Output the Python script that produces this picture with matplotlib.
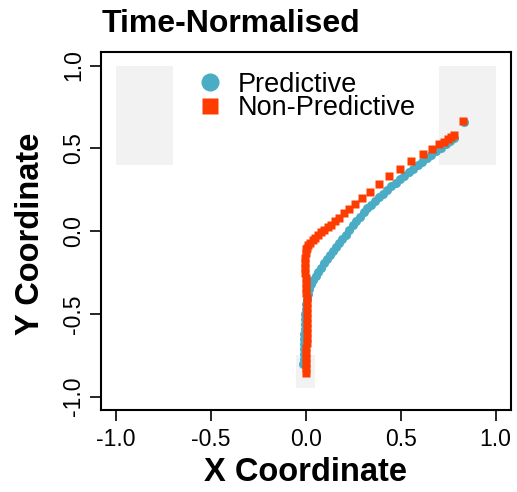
import matplotlib
matplotlib.use("Agg")
import matplotlib.pyplot as plt
from matplotlib.patches import Rectangle

plt.rcParams['font.family'] = ['Liberation Sans', 'DejaVu Sans']
plt.rcParams['axes.unicode_minus'] = False

# Predictive trajectory (blue circles)
pred_x = [-0.012, -0.011, -0.010, -0.010, -0.009, -0.008, -0.007, -0.006, -0.005, -0.003,
          -0.002, 0.000, 0.003, 0.007, 0.012, 0.020, 0.030, 0.041, 0.053, 0.066,
          0.080, 0.095, 0.110, 0.126, 0.142, 0.158, 0.175, 0.192, 0.210, 0.228,
          0.247, 0.266, 0.285, 0.305, 0.325, 0.345, 0.366, 0.387, 0.408, 0.430,
          0.452, 0.474, 0.497, 0.520, 0.543, 0.566, 0.590, 0.614, 0.638, 0.662,
          0.687, 0.712, 0.737, 0.762, 0.780, 0.836]
pred_y = [-0.80, -0.77, -0.74, -0.71, -0.68, -0.65, -0.62, -0.59, -0.56, -0.53,
          -0.50, -0.47, -0.44, -0.41, -0.38, -0.35, -0.32, -0.295, -0.27, -0.245,
          -0.22, -0.195, -0.17, -0.145, -0.12, -0.097, -0.073, -0.05, -0.025, 0.005,
          0.035, 0.062, 0.088, 0.113, 0.137, 0.160, 0.183, 0.205, 0.226, 0.250,
          0.271, 0.292, 0.313, 0.334, 0.355, 0.377, 0.398, 0.419, 0.440, 0.461,
          0.483, 0.504, 0.525, 0.546, 0.562, 0.662]

# Non-predictive trajectory (red squares)
nonpred_x = [0.002, 0.002, 0.003, 0.003, 0.004, 0.004, 0.005, 0.005, 0.005, 0.005,
             0.005, 0.005, 0.005, 0.005, 0.005, 0.005, 0.004, 0.003, 0.002, 0.000,
             -0.002, -0.003, -0.003, -0.002, 0.000, 0.003,
             0.006, 0.014, 0.024, 0.036, 0.051, 0.066, 0.082, 0.098, 0.116, 0.134,
             0.153, 0.175, 0.200, 0.228, 0.260, 0.296, 0.337, 0.386, 0.440, 0.497,
             0.555, 0.616, 0.663, 0.704, 0.730, 0.751, 0.768, 0.783, 0.830]
nonpred_y = [-0.855, -0.825, -0.795, -0.765, -0.735, -0.705, -0.675, -0.645, -0.615, -0.585,
             -0.555, -0.525, -0.495, -0.465, -0.435, -0.405, -0.375, -0.345, -0.315, -0.285,
             -0.255, -0.225, -0.195, -0.165, -0.135, -0.110,
             -0.100, -0.085, -0.070, -0.055, -0.040, -0.024, -0.008, 0.008, 0.024, 0.040,
             0.060, 0.082, 0.108, 0.136, 0.166, 0.200, 0.238, 0.284, 0.330, 0.376,
             0.424, 0.464, 0.496, 0.524, 0.540, 0.554, 0.566, 0.578, 0.664]

# grey target zones: (x0, y0, width, height)
zones = [(-1.0, 0.4, 0.3, 0.6), (0.7, 0.4, 0.3, 0.6), (-0.05, -0.95, 0.1, 0.2)]

blue = '#4BACC6'
red = '#FF3C00'

fig = plt.figure(figsize=(5.17, 4.92), dpi=100)
ax = fig.add_axes([0.1948, 0.1667, 0.7930, 0.7270])

for x0, y0, w, h in zones:
    ax.add_patch(Rectangle((x0, y0), w, h, facecolor='#F2F2F2', edgecolor='none', zorder=0))

ax.plot(pred_x, pred_y, linestyle='none', marker='o', ms=6.5, color=blue,
        mec='none', label='Predictive', zorder=2)
ax.plot(nonpred_x, nonpred_y, linestyle='none', marker='s', ms=5.8, color=red,
        mec='none', label='Non-Predictive', zorder=3)

ax.set_xlim(-1.08, 1.08)
ax.set_ylim(-1.08, 1.08)
ax.set_xticks([-1.0, -0.5, 0.0, 0.5, 1.0])
ax.set_yticks([-1.0, -0.5, 0.0, 0.5, 1.0])
ax.tick_params(length=8, width=1.2, labelsize=16.5, direction='out')
ax.tick_params(axis='x', pad=5)
ax.tick_params(axis='y', pad=3)
for lab in ax.get_yticklabels():
    lab.set_rotation(90)
    lab.set_va('center')
for sp in ax.spines.values():
    sp.set_linewidth(1.5)

ax.set_xlabel('X Coordinate', fontsize=23.5, fontweight='bold', va='center')
ax.xaxis.set_label_coords(0.5, -0.176)
ax.set_ylabel('Y Coordinate', fontsize=23.5, fontweight='bold', va='center')
ax.yaxis.set_label_coords(-0.172, 0.493)

fig.text(0.196, 0.935, 'Time-Normalised', fontsize=23, fontweight='bold',
         ha='left', va='baseline')

# rows sit tight together, as in the reference
ax.legend(loc='upper left', bbox_to_anchor=(0.234, 0.945), frameon=False,
          fontsize=19.5, markerscale=2.0, handlelength=1.0, handletextpad=0.5,
          labelspacing=-0.1, borderpad=0.0, borderaxespad=0.0)

fig.savefig('out.png', dpi=100)
